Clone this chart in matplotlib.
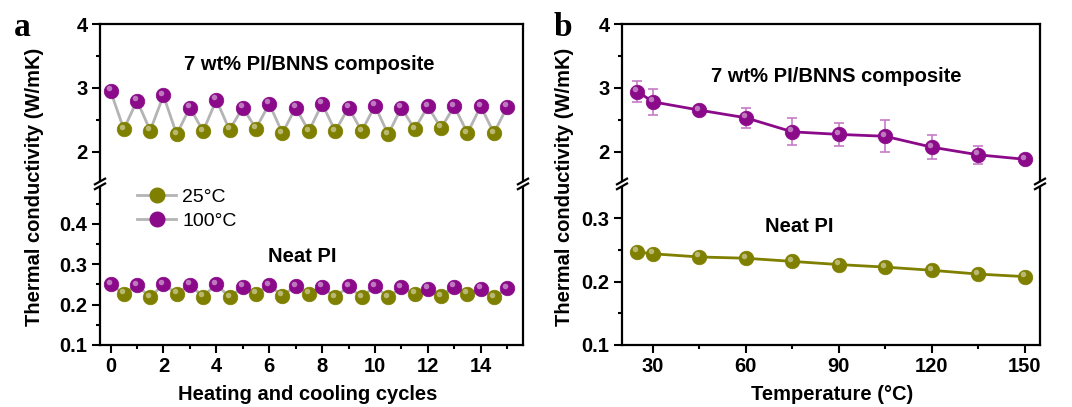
import numpy as np
import matplotlib
matplotlib.use("Agg")
import matplotlib.pyplot as plt
from matplotlib.transforms import ScaledTranslation

plt.rcParams['font.family'] = ['Liberation Sans', 'DejaVu Sans']

# ---------------- data ----------------
# Panel a: heating / cooling cycles
cycles_hot = list(range(0, 16))                       # 100 C measurements
cycles_cold = [i + 0.5 for i in range(0, 15)]         # 25 C measurements
comp_hot = [2.95, 2.80, 2.88, 2.69, 2.81, 2.69, 2.75, 2.69, 2.75, 2.69,
            2.72, 2.69, 2.71, 2.71, 2.71, 2.70]
comp_cold = [2.35, 2.33, 2.27, 2.32, 2.34, 2.36, 2.29, 2.32, 2.32, 2.32,
             2.27, 2.35, 2.37, 2.29, 2.29]
neat_hot = [0.251, 0.248, 0.251, 0.249, 0.251, 0.244, 0.248, 0.246, 0.244,
            0.246, 0.246, 0.243, 0.239, 0.244, 0.239, 0.241]
neat_cold = [0.227, 0.218, 0.227, 0.220, 0.218, 0.227, 0.222, 0.227, 0.218,
             0.218, 0.218, 0.227, 0.221, 0.227, 0.218]

# Panel b: temperature dependence
temps = [25, 30, 45, 60, 75, 90, 105, 120, 135, 150]
comp_T = [2.94, 2.78, 2.65, 2.53, 2.31, 2.27, 2.24, 2.07, 1.95, 1.88]
comp_T_err = [0.17, 0.20, 0.04, 0.16, 0.21, 0.18, 0.25, 0.19, 0.14, 0.03]
neat_T = [0.247, 0.244, 0.239, 0.237, 0.232, 0.227, 0.223, 0.218, 0.212, 0.208]

legend_labels = ['25\u00b0C', '100\u00b0C']

PURPLE = '#8a0a8a'
OLIVE = '#7f7f00'
GRAY = '#b4b4b4'
ERR = '#c77cc7'
MS = 10.5

W, H = 1072, 407
fig = plt.figure(figsize=(W / 100, H / 100), dpi=100)


def frac_box(left, right, top, bottom):
    return [left / W, 1 - bottom / H, (right - left) / W, (bottom - top) / H]


def style_axes(ax, upper):
    for s in ax.spines.values():
        s.set_linewidth(1.6)
    ax.tick_params(which='both', direction='out', width=1.5, labelsize=14.5,
                   right=False, top=False)
    ax.tick_params(which='major', length=5.5)
    ax.tick_params(which='minor', length=3)
    for lab in ax.get_yticklabels() + ax.get_xticklabels():
        lab.set_fontweight('bold')
    if upper:
        ax.spines['bottom'].set_visible(False)
        ax.tick_params(axis='x', which='both', bottom=False, labelbottom=False)
    else:
        ax.spines['top'].set_visible(False)


def sphere(ax, x, y, color, ms=MS, zorder=4):
    ax.plot(x, y, 'o', ms=ms, mfc=color, mec=color, mew=0.5, zorder=zorder,
            clip_on=False)
    off = ScaledTranslation(-2 / 100, 2.5 / 100, fig.dpi_scale_trans)
    ax.plot(x, y, 'o', ms=ms * 0.38, mfc='white', mec='none', alpha=0.45,
            zorder=zorder + 1, transform=ax.transData + off, clip_on=False)


def break_marks(ax_up, ax_low):
    # draw the "//" break marks on both spines at the joint
    for xa in (0, 1):
        trans = ax_low.transAxes
        ax_low.add_patch(plt.Rectangle((xa - 0.012, 0.985), 0.024, 0.03,
                                       transform=trans, facecolor='white',
                                       edgecolor='none', zorder=10, clip_on=False))
        for dy in (0.995, 1.025):
            ax_low.plot([xa - 0.012, xa + 0.012], [dy - 0.03, dy + 0.005],
                        transform=trans, color='black', lw=1.6, zorder=11,
                        clip_on=False)


def zigzag_xy(xh, yh, xc, yc):
    xs, ys = [], []
    for i in range(len(xh)):
        xs.append(xh[i]); ys.append(yh[i])
        if i < len(xc):
            xs.append(xc[i]); ys.append(yc[i])
    return xs, ys


# ---------------- panel a ----------------
axa_up = fig.add_axes(frac_box(100, 523, 24, 183.5))
axa_lo = fig.add_axes(frac_box(100, 523, 183.5, 345))
for ax in (axa_up, axa_lo):
    ax.set_xlim(-0.4, 15.6)
axa_up.set_ylim(1.5, 4)
axa_lo.set_ylim(0.1, 0.5)
axa_up.set_yticks([2, 3, 4])
axa_up.set_yticks([2.5, 3.5], minor=True)
axa_lo.set_yticks([0.1, 0.2, 0.3, 0.4])
axa_lo.set_yticks([0.15, 0.25, 0.35, 0.45], minor=True)
axa_lo.set_xticks(range(0, 16, 2))
axa_lo.set_xticks(range(1, 16, 2), minor=True)
axa_lo.set_yticklabels(['0.1', '0.2', '0.3', '0.4'])
axa_up.set_yticklabels(['2', '3', '4'])

xs, ys = zigzag_xy(cycles_hot, comp_hot, cycles_cold, comp_cold)
axa_up.plot(xs, ys, color=GRAY, lw=2, zorder=2)
sphere(axa_up, cycles_cold, comp_cold, OLIVE)
sphere(axa_up, cycles_hot, comp_hot, PURPLE)
xs, ys = zigzag_xy(cycles_hot, neat_hot, cycles_cold, neat_cold)
axa_lo.plot(xs, ys, color=GRAY, lw=2, zorder=2)
sphere(axa_lo, cycles_cold, neat_cold, OLIVE)
sphere(axa_lo, cycles_hot, neat_hot, PURPLE)

h1, = axa_lo.plot([], [], '-o', color=GRAY, lw=2, ms=MS, mfc=OLIVE, mec=OLIVE)
h2, = axa_lo.plot([], [], '-o', color=GRAY, lw=2, ms=MS, mfc=PURPLE, mec=PURPLE)
leg = axa_lo.legend([h1, h2], legend_labels, loc='upper left', frameon=False,
                    fontsize=14, handlelength=2.0, handletextpad=0.3,
                    labelspacing=0.35, borderaxespad=0.0,
                    bbox_to_anchor=(0.07, 1.02))

style_axes(axa_up, True)
style_axes(axa_lo, False)
break_marks(axa_up, axa_lo)

fig.text(309 / W, 1 - 65 / H, '7 wt% PI/BNNS composite', ha='center', va='center',
         fontsize=14.5, fontweight='bold')
fig.text(302 / W, 1 - 257 / H, 'Neat PI', ha='center', va='center',
         fontsize=14.5, fontweight='bold')
fig.text(35 / W, 1 - 187 / H, 'Thermal conductivity (W/mK)', rotation=90,
         ha='center', va='center', fontsize=14.5, fontweight='bold')
fig.text(308 / W, 1 - 395 / H, 'Heating and cooling cycles', ha='center',
         va='center', fontsize=14.5, fontweight='bold')
fig.text(22 / W, 1 - 28 / H, 'a', ha='center', va='center', fontsize=24,
         fontweight='bold', family=['Liberation Serif', 'DejaVu Serif'])

# ---------------- panel b ----------------
axb_up = fig.add_axes(frac_box(622, 1040, 24, 183.5))
axb_lo = fig.add_axes(frac_box(622, 1040, 183.5, 345))
for ax in (axb_up, axb_lo):
    ax.set_xlim(20, 155)
axb_up.set_ylim(1.5, 4)
axb_lo.set_ylim(0.1, 0.355)
axb_up.set_yticks([2, 3, 4])
axb_up.set_yticks([2.5, 3.5], minor=True)
axb_up.set_yticklabels(['2', '3', '4'])
axb_lo.set_yticks([0.1, 0.2, 0.3])
axb_lo.set_yticks([0.15, 0.25], minor=True)
axb_lo.set_yticklabels(['0.1', '0.2', '0.3'])
axb_lo.set_xticks([30, 60, 90, 120, 150])
axb_lo.set_xticks([45, 75, 105, 135], minor=True)

axb_up.errorbar(temps, comp_T, yerr=comp_T_err, fmt='none', ecolor=ERR,
                elinewidth=1.2, capsize=3.5, capthick=1.2, zorder=1)
axb_up.plot(temps, comp_T, color=PURPLE, lw=2, zorder=2)
sphere(axb_up, temps, comp_T, PURPLE)
axb_lo.plot(temps, neat_T, color=OLIVE, lw=2, zorder=2)
sphere(axb_lo, temps, neat_T, OLIVE)

style_axes(axb_up, True)
style_axes(axb_lo, False)
break_marks(axb_up, axb_lo)

fig.text(836 / W, 1 - 77 / H, '7 wt% PI/BNNS composite', ha='center', va='center',
         fontsize=14.5, fontweight='bold')
fig.text(799 / W, 1 - 227 / H, 'Neat PI', ha='center', va='center',
         fontsize=14.5, fontweight='bold')
fig.text(565 / W, 1 - 187 / H, 'Thermal conductivity (W/mK)', rotation=90,
         ha='center', va='center', fontsize=14.5, fontweight='bold')
fig.text(832 / W, 1 - 395 / H, 'Temperature (\u00b0C)', ha='center',
         va='center', fontsize=14.5, fontweight='bold')
fig.text(563 / W, 1 - 28 / H, 'b', ha='center', va='center', fontsize=24,
         fontweight='bold', family=['Liberation Serif', 'DejaVu Serif'])

fig.savefig('out.png', dpi=100)
